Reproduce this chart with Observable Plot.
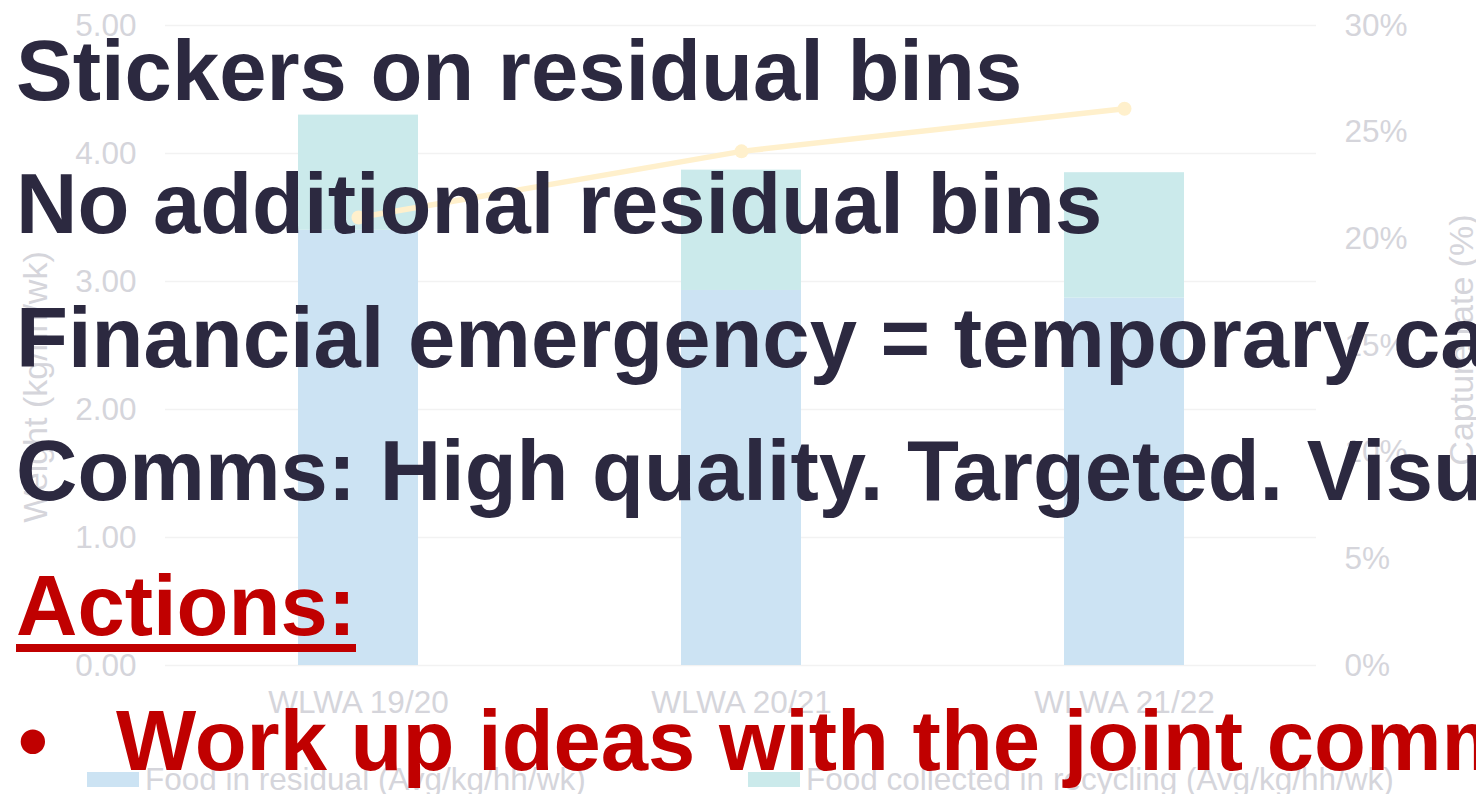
<!DOCTYPE html>
<html>
<head>
<meta charset="utf-8">
<script src="https://cdn.jsdelivr.net/npm/d3@7"></script>
<script src="https://cdn.jsdelivr.net/npm/@observablehq/plot@0.6"></script>
<style>
  html, body { margin: 0; padding: 0; background: #ffffff; overflow: hidden; }
  #wrap { position: relative; width: 1476px; height: 794px; overflow: hidden; font-family: "Liberation Sans", Arial, sans-serif; }
  #chart { position: absolute; left: 0; top: 0; }
  .atitle { position: absolute; font-size: 34px; line-height: 1; color: #d5d5db; white-space: nowrap; transform: translate(-50%, -50%) rotate(-90deg); }
  .leg { position: absolute; font-size: 31.5px; line-height: 1; color: #d5d5db; white-space: nowrap; }
  .sw { position: absolute; width: 52px; height: 15px; }
  .big { position: absolute; left: 16px; font-size: 85px; line-height: 1; font-weight: bold; white-space: nowrap; color: #2c2940; }
  .red { color: #c00000; }
  .ul { text-decoration: underline; text-decoration-thickness: 8px; text-underline-offset: 9px; }
</style>
</head>
<body>
<div id="wrap">
  <div id="chart"></div>
  <div class="atitle" id="ytl" style="left:35px; top:387px;"></div>
  <div class="atitle" id="ytr" style="left:1461px; top:340px;"></div>
  <div class="sw" id="sw0" style="left:87px; top:772px;"></div>
  <div class="leg" id="lg0" style="left:145px; top:764px;"></div>
  <div class="sw" id="sw1" style="left:748px; top:772px;"></div>
  <div class="leg" id="lg1" style="left:806px; top:764px;"></div>
  <div class="big" style="top:28px;">Stickers on residual bins</div>
  <div class="big" style="top:161px;">No additional residual bins</div>
  <div class="big" style="top:295px;">Financial emergency = temporary ca</div>
  <div class="big" style="top:428px;">Comms: High quality. Targeted. Visual</div>
  <div class="big red ul" style="top:563px;">Actions:</div>
  <div class="big red" style="top:698px; left:18px;">•</div>
  <div class="big red" style="top:698px; left:116px;">Work up ideas with the joint comms</div>
</div>
<script>
const categories = ["WLWA 19/20", "WLWA 20/21", "WLWA 21/22"];
const seriesNames = ["Food in residual (Avg/kg/hh/wk)", "Food collected in recycling (Avg/kg/hh/wk)"];
const residual = [3.40, 2.93, 2.87];
const recycling = [0.90, 0.94, 0.98];
const captureRate = [21.0, 24.1, 26.1];
const leftTicks = [0, 1, 2, 3, 4, 5];
const rightTicks = [0, 5, 10, 15, 20, 25, 30];
const leftTitle = "Weight (kg/hh/wk)";
const rightTitle = "Capture rate (%)";
const seriesColors = ["#cce3f3", "#cbeaeb"];
const lineColor = "#fff0cc";

const leftMax = 5, rightMax = 30;
const k = leftMax / rightMax;

const rows = categories.flatMap((c, i) => [
  {cat: c, series: seriesNames[0], value: residual[i]},
  {cat: c, series: seriesNames[1], value: recycling[i]}
]);
const rateRows = categories.map((c, i) => ({cat: c, rate: captureRate[i]}));

const chart = Plot.plot({
  width: 1476,
  height: 794,
  marginTop: 25,
  marginBottom: 129,
  marginLeft: 165,
  marginRight: 160,
  style: {fontFamily: '"Liberation Sans", Arial, sans-serif', fontSize: "31.5px", color: "#d5d5db", background: "transparent"},
  x: {domain: categories, paddingInner: 0.687, paddingOuter: 0.3435, label: null},
  y: {domain: [0, leftMax], label: null},
  color: {domain: seriesNames, range: seriesColors},
  marks: [
    Plot.gridY(leftTicks, {stroke: "#f2f2f2", strokeOpacity: 1, strokeWidth: 1.5}),
    Plot.barY(rows, {x: "cat", y: "value", fill: "series"}),
    Plot.line(rateRows, {x: "cat", y: d => d.rate * k, stroke: lineColor, strokeWidth: 5.5}),
    Plot.dot(rateRows, {x: "cat", y: d => d.rate * k, r: 7, fill: lineColor, stroke: null}),
    Plot.axisY(leftTicks, {anchor: "left", tickSize: 0, tickPadding: 29, tickFormat: d => d.toFixed(2), label: null, fill: "#d5d5db"}),
    Plot.axisY(rightTicks.map(t => t * k), {anchor: "right", tickSize: 0, tickPadding: 28, tickFormat: d => Math.round(d / k) + "%", label: null, fill: "#d5d5db"}),
    Plot.axisX({tickSize: 0, tickPadding: 25, label: null, fill: "#d5d5db"})
  ]
});
document.getElementById("chart").appendChild(chart);
document.getElementById("ytl").textContent = leftTitle;
document.getElementById("ytr").textContent = rightTitle;
document.getElementById("sw0").style.background = seriesColors[0];
document.getElementById("sw1").style.background = seriesColors[1];
document.getElementById("lg0").textContent = seriesNames[0];
document.getElementById("lg1").textContent = seriesNames[1];
</script>
</body>
</html>
